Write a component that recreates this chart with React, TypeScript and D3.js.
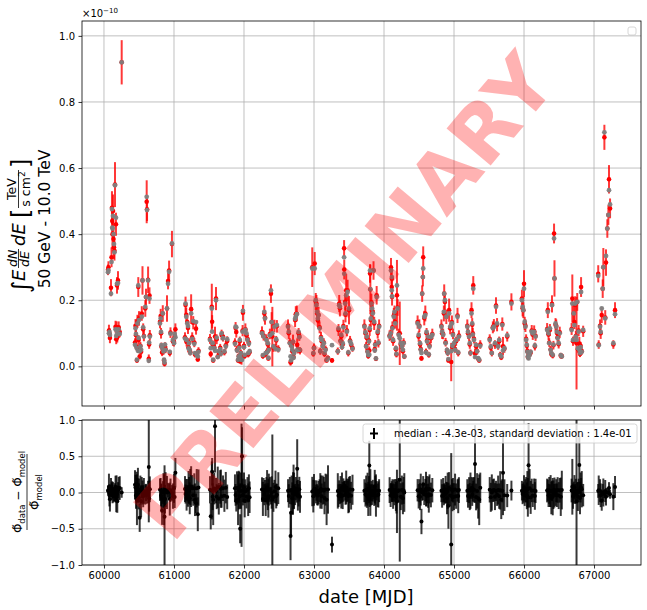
import * as d3 from "d3";
import { useEffect, useRef } from "react";

// one row per night: [date MJD, measured flux (x1e-10), flux error, model flux]
const season01 = [
  [60057, 0.292, 0.016, 0.285], [60064, 0.300, 0.018, 0.290], [60071, 0.108, 0.018, 0.100],
  [60078, 0.100, 0.016, 0.104], [60085, 0.086, 0.016, 0.095], [60100, 0.238, 0.026, 0.220],
  [60108, 0.330, 0.030, 0.316], [60114, 0.480, 0.050, 0.476], [60118, 0.440, 0.045, 0.420],
  [60122, 0.400, 0.045, 0.417], [60129, 0.470, 0.050, 0.455], [60136, 0.385, 0.040, 0.400],
  [60143, 0.360, 0.035, 0.370], [60150, 0.350, 0.030, 0.345], [60157, 0.550, 0.068, 0.548],
  [60165, 0.120, 0.018, 0.112], [60171, 0.430, 0.035, 0.450], [60175, 0.082, 0.015, 0.092],
  [60180, 0.118, 0.018, 0.110], [60186, 0.245, 0.025, 0.250], [60190, 0.088, 0.016, 0.100],
  [60200, 0.260, 0.028, 0.252], [60210, 0.118, 0.018, 0.112], [60225, 0.104, 0.016, 0.098],
  [60253, 0.920, 0.067, 0.920],
];
const season02 = [
  [60443, 0.072, 0.013, 0.065], [60450, 0.123, 0.020, 0.115], [60457, 0.094, 0.018, 0.098],
  [60465, 0.060, 0.012, 0.056], [60471, 0.018, 0.007, 0.020], [60478, 0.136, 0.020, 0.130],
  [60485, 0.052, 0.011, 0.047], [60490, 0.240, 0.030, 0.245], [60495, 0.080, 0.014, 0.086],
  [60500, 0.145, 0.022, 0.140], [60510, 0.030, 0.009, 0.046], [60520, 0.062, 0.012, 0.060],
  [60530, 0.044, 0.011, 0.050], [60540, 0.160, 0.022, 0.150], [60550, 0.260, 0.043, 0.260],
  [60560, 0.112, 0.018, 0.118], [60570, 0.092, 0.016, 0.090], [60590, 0.175, 0.025, 0.180],
  [60600, 0.210, 0.025, 0.210], [60610, 0.498, 0.065, 0.513], [60615, 0.475, 0.035, 0.473],
  [60630, 0.262, 0.040, 0.260], [60640, 0.023, 0.013, 0.017], [60645, 0.066, 0.013, 0.072],
  [60650, 0.214, 0.025, 0.205], [60655, 0.094, 0.016, 0.090],
];
const season03 = [
  [60800, 0.135, 0.020, 0.130], [60810, 0.152, 0.022, 0.145], [60815, 0.100, 0.016, 0.104],
  [60820, 0.060, 0.012, 0.064], [60830, 0.042, 0.011, 0.056], [60840, 0.160, 0.025, 0.160],
  [60850, 0.046, 0.011, 0.045], [60858, 0.018, 0.007, 0.020], [60865, 0.008, 0.0085, 0.012],
  [60872, 0.060, 0.013, 0.066], [60880, 0.052, 0.012, 0.050], [60900, 0.175, 0.040, 0.175],
  [60915, 0.258, 0.025, 0.250], [60930, 0.290, 0.030, 0.286], [60940, 0.040, 0.010, 0.044],
  [60950, 0.102, 0.016, 0.099], [60971, 0.370, 0.040, 0.372], [60985, 0.076, 0.014, 0.080],
  [61000, 0.074, 0.014, 0.070], [61010, 0.092, 0.015, 0.098], [61020, 0.112, 0.018, 0.088],
];
const season04 = [
  [61157, 0.088, 0.015, 0.084], [61165, 0.186, 0.025, 0.190], [61175, 0.156, 0.022, 0.150],
  [61180, 0.074, 0.014, 0.080], [61190, 0.134, 0.020, 0.130], [61200, 0.116, 0.018, 0.122],
  [61208, 0.058, 0.012, 0.054], [61215, 0.072, 0.013, 0.070], [61225, 0.046, 0.011, 0.050],
  [61232, 0.043, 0.010, 0.040], [61245, 0.173, 0.045, 0.160], [61260, 0.088, 0.015, 0.083],
  [61275, 0.132, 0.020, 0.137], [61290, 0.072, 0.014, 0.068], [61300, 0.036, 0.009, 0.040],
  [61315, 0.114, 0.018, 0.134], [61325, 0.036, 0.009, 0.034], [61340, 0.021, 0.007, 0.030],
  [61350, 0.047, 0.011, 0.044],
];
const season05 = [
  [61514, 0.083, 0.015, 0.080], [61525, 0.037, 0.010, 0.055], [61540, 0.180, 0.070, 0.175],
  [61545, 0.135, 0.020, 0.105], [61552, 0.066, 0.013, 0.070], [61560, 0.018, 0.007, 0.020],
  [61575, 0.058, 0.012, 0.055], [61586, 0.090, 0.030, 0.047], [61600, 0.205, 0.035, 0.200],
  [61610, 0.082, 0.015, 0.087], [61625, 0.030, 0.008, 0.028], [61640, 0.042, 0.010, 0.046],
  [61660, 0.056, 0.012, 0.052], [61670, 0.040, 0.010, 0.038], [61680, 0.095, 0.016, 0.100],
  [61700, 0.090, 0.015, 0.085], [61720, 0.043, 0.010, 0.045], [61740, 0.064, 0.013, 0.060],
  [61760, 0.077, 0.014, 0.082],
];
const season06 = [
  [61871, 0.072, 0.013, 0.068], [61880, 0.116, 0.018, 0.120], [61890, 0.104, 0.017, 0.118],
  [61900, 0.051, 0.011, 0.048], [61915, 0.018, 0.007, 0.020], [61925, 0.031, 0.008, 0.030],
  [61932, 0.060, 0.012, 0.056], [61940, 0.076, 0.014, 0.080], [61945, 0.015, 0.006, 0.030],
  [61955, 0.041, 0.010, 0.040], [61965, 0.022, 0.017, 0.020], [61972, 0.030, 0.008, 0.020],
  [61980, 0.108, 0.017, 0.105], [61985, 0.162, 0.024, 0.168], [62000, 0.062, 0.012, 0.058],
  [62010, 0.031, 0.008, 0.035], [62020, 0.112, 0.018, 0.110], [62035, 0.094, 0.016, 0.100],
  [62050, 0.083, 0.014, 0.080], [62060, 0.036, 0.009, 0.040], [62070, 0.072, 0.013, 0.068],
  [62080, 0.043, 0.010, 0.046],
];
const season07 = [
  [62257, 0.104, 0.017, 0.100], [62270, 0.031, 0.008, 0.034], [62280, 0.093, 0.015, 0.090],
  [62290, 0.160, 0.024, 0.165], [62300, 0.148, 0.022, 0.145], [62310, 0.036, 0.009, 0.040],
  [62320, 0.083, 0.014, 0.080], [62330, 0.045, 0.010, 0.042], [62340, 0.066, 0.013, 0.070],
  [62348, 0.024, 0.007, 0.026], [62355, 0.052, 0.011, 0.050], [62370, 0.098, 0.016, 0.094],
  [62385, 0.220, 0.028, 0.230], [62395, 0.134, 0.030, 0.134], [62405, 0.090, 0.090, 0.100],
  [62420, 0.056, 0.012, 0.060], [62435, 0.122, 0.019, 0.120], [62450, 0.057, 0.012, 0.053],
  [62460, 0.078, 0.014, 0.082], [62470, 0.121, 0.019, 0.125], [62490, 0.053, 0.011, 0.050],
];
const season08 = [
  [62629, 0.123, 0.019, 0.120], [62640, 0.100, 0.017, 0.105], [62655, 0.072, 0.013, 0.070],
  [62665, 0.012, 0.010, 0.030], [62672, 0.013, 0.006, 0.018], [62680, 0.062, 0.012, 0.060],
  [62690, 0.046, 0.011, 0.050], [62700, 0.074, 0.022, 0.075], [62708, 0.028, 0.008, 0.026],
  [62715, 0.041, 0.010, 0.040], [62730, 0.140, 0.021, 0.144], [62740, 0.158, 0.024, 0.150],
  [62755, 0.160, 0.024, 0.158], [62760, 0.065, 0.020, 0.049], [62770, 0.050, 0.011, 0.052],
  [62780, 0.100, 0.016, 0.104], [62790, 0.092, 0.015, 0.088], [62800, 0.047, 0.011, 0.050],
];
const season09 = [
  [62975, 0.300, 0.060, 0.296], [62990, 0.038, 0.009, 0.040], [63000, 0.057, 0.012, 0.055],
  [63010, 0.311, 0.035, 0.296], [63025, 0.196, 0.026, 0.200], [63035, 0.190, 0.026, 0.185],
  [63045, 0.160, 0.024, 0.165], [63055, 0.139, 0.020, 0.145], [63065, 0.155, 0.025, 0.155],
  [63080, 0.118, 0.018, 0.115], [63090, 0.046, 0.011, 0.045], [63100, 0.089, 0.016, 0.085],
  [63110, 0.076, 0.014, 0.080], [63125, 0.062, 0.012, 0.060], [63140, 0.072, 0.013, 0.070],
  [63150, 0.037, 0.009, 0.040], [63165, 0.052, 0.011, 0.050], [63180, 0.018, 0.007, 0.020],
  [63200, 0.025, 0.008, 0.024], [63257, 0.018, 0.007, 0.064],
];
const season10 = [
  [63340, 0.046, 0.011, 0.045], [63350, 0.110, 0.018, 0.115], [63360, 0.190, 0.026, 0.185],
  [63370, 0.176, 0.025, 0.180], [63380, 0.078, 0.014, 0.075], [63390, 0.090, 0.016, 0.095],
  [63400, 0.062, 0.012, 0.058], [63410, 0.067, 0.013, 0.070], [63420, 0.122, 0.019, 0.118],
  [63430, 0.357, 0.025, 0.330], [63432, 0.293, 0.030, 0.280], [63445, 0.195, 0.026, 0.190],
  [63450, 0.156, 0.023, 0.160], [63460, 0.230, 0.050, 0.215], [63470, 0.108, 0.017, 0.105],
  [63480, 0.230, 0.032, 0.225], [63490, 0.040, 0.010, 0.042], [63500, 0.170, 0.043, 0.175],
  [63515, 0.078, 0.014, 0.075], [63530, 0.065, 0.013, 0.068], [63550, 0.055, 0.011, 0.053],
];
const season11 = [
  [63720, 0.123, 0.019, 0.120], [63735, 0.100, 0.017, 0.103], [63745, 0.062, 0.012, 0.060],
  [63755, 0.086, 0.015, 0.090], [63765, 0.046, 0.010, 0.044], [63775, 0.031, 0.008, 0.034],
  [63785, 0.078, 0.014, 0.075], [63790, 0.048, 0.012, 0.035], [63795, 0.110, 0.018, 0.115],
  [63800, 0.281, 0.028, 0.290], [63805, 0.233, 0.075, 0.233], [63812, 0.140, 0.021, 0.145],
  [63820, 0.194, 0.026, 0.190], [63830, 0.170, 0.025, 0.175], [63840, 0.164, 0.024, 0.160],
  [63850, 0.290, 0.028, 0.290], [63860, 0.130, 0.020, 0.135], [63868, 0.052, 0.011, 0.048],
  [63875, 0.067, 0.013, 0.065], [63885, 0.023, 0.007, 0.024], [63895, 0.215, 0.028, 0.210],
  [63910, 0.101, 0.017, 0.105], [63920, 0.070, 0.013, 0.072], [63930, 0.123, 0.019, 0.120],
];
const season12 = [
  [64080, 0.093, 0.016, 0.090], [64095, 0.096, 0.016, 0.100], [64100, 0.300, 0.028, 0.290],
  [64110, 0.240, 0.026, 0.230], [64112, 0.265, 0.028, 0.270], [64115, 0.210, 0.026, 0.212],
  [64120, 0.118, 0.018, 0.115], [64130, 0.076, 0.014, 0.080], [64140, 0.154, 0.023, 0.150],
  [64150, 0.160, 0.024, 0.165], [64160, 0.134, 0.020, 0.130], [64170, 0.052, 0.011, 0.055],
  [64178, 0.036, 0.009, 0.038], [64185, 0.215, 0.107, 0.245], [64195, 0.178, 0.025, 0.175],
  [64210, 0.098, 0.016, 0.095], [64225, 0.100, 0.096, 0.085], [64240, 0.066, 0.013, 0.070],
  [64255, 0.062, 0.012, 0.060], [64270, 0.046, 0.011, 0.050], [64280, 0.072, 0.013, 0.070],
  [64290, 0.030, 0.008, 0.030],
];
const season13 = [
  [64480, 0.134, 0.020, 0.130], [64495, 0.090, 0.016, 0.095], [64505, 0.123, 0.019, 0.120],
  [64515, 0.066, 0.013, 0.070], [64525, 0.052, 0.011, 0.050], [64535, 0.024, 0.007, 0.040],
  [64545, 0.220, 0.025, 0.220], [64555, 0.270, 0.028, 0.270], [64560, 0.330, 0.033, 0.296],
  [64575, 0.146, 0.022, 0.150], [64590, 0.160, 0.024, 0.155], [64600, 0.044, 0.010, 0.042],
  [64608, 0.100, 0.016, 0.104], [64615, 0.078, 0.014, 0.075], [64630, 0.086, 0.015, 0.090],
  [64640, 0.035, 0.009, 0.036], [64650, 0.063, 0.012, 0.060], [64670, 0.085, 0.015, 0.088],
  [64690, 0.098, 0.016, 0.095],
];
const season14 = [
  [64820, 0.123, 0.019, 0.120], [64830, 0.100, 0.017, 0.105], [64845, 0.098, 0.016, 0.095],
  [64855, 0.160, 0.024, 0.165], [64860, 0.220, 0.028, 0.220], [64870, 0.195, 0.026, 0.200],
  [64880, 0.073, 0.013, 0.070], [64890, 0.150, 0.022, 0.150], [64900, 0.046, 0.011, 0.050],
  [64910, 0.041, 0.010, 0.040], [64920, 0.018, 0.007, 0.022], [64930, 0.170, 0.035, 0.160],
  [64945, 0.115, 0.018, 0.120], [64960, 0.013, 0.058, 0.046], [64970, 0.134, 0.020, 0.130],
  [64978, 0.058, 0.012, 0.062], [64985, 0.098, 0.016, 0.095], [65000, 0.066, 0.013, 0.070],
  [65015, 0.052, 0.011, 0.050], [65030, 0.076, 0.014, 0.080], [65050, 0.154, 0.023, 0.150],
  [65060, 0.040, 0.010, 0.042], [65070, 0.093, 0.016, 0.090],
];
const season15 = [
  [65190, 0.123, 0.019, 0.120], [65200, 0.100, 0.017, 0.105], [65215, 0.093, 0.016, 0.090],
  [65225, 0.066, 0.013, 0.070], [65235, 0.041, 0.010, 0.040], [65250, 0.170, 0.024, 0.160],
  [65260, 0.126, 0.020, 0.130], [65268, 0.100, 0.016, 0.096], [65275, 0.245, 0.028, 0.235],
  [65285, 0.083, 0.014, 0.080], [65300, 0.039, 0.015, 0.028], [65315, 0.061, 0.012, 0.065],
  [65330, 0.046, 0.011, 0.045], [65345, 0.023, 0.007, 0.025], [65360, 0.018, 0.007, 0.020],
  [65375, 0.066, 0.013, 0.062],
];
const season16 = [
  [65510, 0.083, 0.014, 0.080], [65525, 0.056, 0.012, 0.060], [65540, 0.040, 0.010, 0.040],
  [65555, 0.118, 0.018, 0.115], [65570, 0.124, 0.019, 0.120], [65585, 0.066, 0.013, 0.070],
  [65600, 0.184, 0.025, 0.180], [65615, 0.126, 0.020, 0.130], [65630, 0.062, 0.012, 0.060],
  [65645, 0.076, 0.014, 0.080], [65660, 0.035, 0.009, 0.034], [65675, 0.027, 0.008, 0.030],
  [65690, 0.128, 0.020, 0.125], [65700, 0.061, 0.028, 0.048], [65720, 0.053, 0.012, 0.055],
  [65760, 0.090, 0.015, 0.094], [65820, 0.195, 0.026, 0.190],
];
const season17 = [
  [65970, 0.205, 0.027, 0.200], [65980, 0.176, 0.025, 0.180], [65990, 0.170, 0.024, 0.170],
  [66000, 0.250, 0.041, 0.235], [66010, 0.130, 0.020, 0.135], [66020, 0.123, 0.019, 0.120],
  [66030, 0.083, 0.014, 0.080], [66040, 0.062, 0.012, 0.065], [66048, 0.046, 0.011, 0.044],
  [66055, 0.028, 0.008, 0.030], [66065, 0.033, 0.014, 0.024], [66080, 0.036, 0.009, 0.034],
  [66095, 0.041, 0.010, 0.044], [66110, 0.108, 0.017, 0.105], [66125, 0.096, 0.016, 0.100],
  [66145, 0.107, 0.017, 0.104], [66155, 0.060, 0.012, 0.063], [66165, 0.092, 0.015, 0.090],
];
const season18 = [
  [66330, 0.113, 0.018, 0.110], [66340, 0.170, 0.024, 0.165], [66350, 0.096, 0.016, 0.100],
  [66360, 0.072, 0.013, 0.070], [66370, 0.110, 0.018, 0.115], [66380, 0.051, 0.011, 0.050],
  [66390, 0.037, 0.009, 0.040], [66400, 0.189, 0.026, 0.185], [66410, 0.033, 0.009, 0.035],
  [66420, 0.064, 0.013, 0.066], [66429, 0.402, 0.030, 0.387], [66435, 0.266, 0.055, 0.266],
  [66450, 0.126, 0.020, 0.130], [66460, 0.123, 0.019, 0.120], [66470, 0.101, 0.017, 0.105],
  [66480, 0.088, 0.015, 0.085], [66495, 0.067, 0.013, 0.070], [66510, 0.103, 0.017, 0.100],
  [66525, 0.032, 0.009, 0.034], [66540, 0.031, 0.008, 0.030],
];
const season19 = [
  [66680, 0.113, 0.018, 0.110], [66690, 0.205, 0.073, 0.190], [66700, 0.076, 0.014, 0.080],
  [66710, 0.160, 0.024, 0.160], [66720, 0.134, 0.021, 0.125], [66730, 0.186, 0.026, 0.190],
  [66740, 0.092, 0.015, 0.090], [66750, 0.070, 0.140, 0.080], [66760, 0.195, 0.027, 0.195],
  [66770, 0.052, 0.011, 0.055], [66780, 0.108, 0.017, 0.105], [66790, 0.069, 0.020, 0.050],
  [66800, 0.037, 0.009, 0.040], [66808, 0.062, 0.012, 0.058], [66815, 0.240, 0.030, 0.225],
  [66825, 0.046, 0.011, 0.044], [66845, 0.106, 0.017, 0.110],
];
const season20 = [
  [67060, 0.280, 0.026, 0.274], [67067, 0.066, 0.013, 0.064], [67086, 0.123, 0.019, 0.120],
  [67095, 0.100, 0.017, 0.104], [67110, 0.155, 0.024, 0.175], [67124, 0.235, 0.028, 0.235],
  [67133, 0.300, 0.058, 0.300], [67148, 0.693, 0.038, 0.708], [67160, 0.148, 0.022, 0.145],
  [67171, 0.314, 0.040, 0.334], [67190, 0.417, 0.028, 0.417], [67205, 0.458, 0.030, 0.458],
  [67214, 0.566, 0.043, 0.533], [67229, 0.478, 0.030, 0.490], [67276, 0.066, 0.013, 0.070],
  [67300, 0.170, 0.024, 0.158],
];

const seasons = [
  season01, season02, season03, season04, season05, season06, season07, season08, season09, season10,
  season11, season12, season13, season14, season15, season16, season17, season18, season19, season20,
];

const fluxTicks = [0, 0.2, 0.4, 0.6, 0.8, 1.0];
const residTicks = [-1, -0.5, 0, 0.5, 1];
const dateTicks = [60000, 61000, 62000, 63000, 64000, 65000, 66000, 67000];
const legendLabel = "median : -4.3e-03, standard deviation : 1.4e-01";
const watermark = "PRELIMINARY";

const FONT = "DejaVu Sans";

const App = () => {
  const ref = useRef<SVGSVGElement>(null);

  useEffect(() => {
    const svg = d3.select(ref.current);
    svg.selectAll("*").remove();

    const left = 82, right = 641;
    const top1 = 21, bot1 = 406;
    const top2 = 420, bot2 = 565;

    const points = seasons.flat().map(([mjd, flux, err, model]) => ({
      mjd, flux, err, model,
      resid: (flux - model) / model,
      residErr: err / model,
    }));

    const x = d3.scaleLinear().domain([59686, 67671]).range([left, right]);
    const y1 = d3.scaleLinear().domain([-0.12, 1.045]).range([bot1, top1]);
    const y2 = d3.scaleLinear().domain([-1, 1]).range([bot2, top2]);

    svg.append("rect").attr("width", 647).attr("height", 610).attr("fill", "white");

    const defs = svg.append("defs");
    defs.append("clipPath").attr("id", "clip-top")
      .append("rect").attr("x", left).attr("y", top1).attr("width", right - left).attr("height", bot1 - top1);
    defs.append("clipPath").attr("id", "clip-bot")
      .append("rect").attr("x", left).attr("y", top2).attr("width", right - left).attr("height", bot2 - top2);

    // grids
    const grid = (g, yScale, yTicks, y0, y1p) => {
      g.selectAll(".gx").data(dateTicks).join("line")
        .attr("x1", d => x(d)).attr("x2", d => x(d)).attr("y1", y0).attr("y2", y1p)
        .attr("stroke", "#b0b0b0").attr("stroke-width", 0.8);
      g.selectAll(".gy").data(yTicks).join("line")
        .attr("x1", left).attr("x2", right).attr("y1", d => yScale(d)).attr("y2", d => yScale(d))
        .attr("stroke", "#b0b0b0").attr("stroke-width", 0.8);
    };
    grid(svg.append("g"), y1, fluxTicks, top1, bot1);
    grid(svg.append("g"), y2, residTicks, top2, bot2);

    // top panel: measured flux with errors, model on top
    const topG = svg.append("g").attr("clip-path", "url(#clip-top)");
    topG.append("g").selectAll("line").data(points).join("line")
      .attr("x1", d => x(d.mjd)).attr("x2", d => x(d.mjd))
      .attr("y1", d => y1(d.flux - d.err)).attr("y2", d => y1(d.flux + d.err))
      .attr("stroke", "red").attr("stroke-opacity", 0.78).attr("stroke-width", 2);
    topG.append("g").selectAll("circle").data(points).join("circle")
      .attr("cx", d => x(d.mjd)).attr("cy", d => y1(d.flux)).attr("r", 2.3).attr("fill", "red");
    topG.append("g").selectAll("circle").data(points).join("circle")
      .attr("cx", d => x(d.mjd)).attr("cy", d => y1(d.model)).attr("r", 2.4)
      .attr("fill", "gray").attr("fill-opacity", 0.95);

    // bottom panel: residuals
    const botG = svg.append("g").attr("clip-path", "url(#clip-bot)");
    botG.append("g").selectAll("line").data(points).join("line")
      .attr("x1", d => x(d.mjd)).attr("x2", d => x(d.mjd))
      .attr("y1", d => y2(d.resid - d.residErr)).attr("y2", d => y2(d.resid + d.residErr))
      .attr("stroke", "black").attr("stroke-opacity", 0.78).attr("stroke-width", 2);
    botG.append("g").selectAll("circle").data(points).join("circle")
      .attr("cx", d => x(d.mjd)).attr("cy", d => y2(d.resid)).attr("r", 2).attr("fill", "black");

    // axes
    const styleAxis = g => {
      g.select(".domain").remove();
      g.selectAll("line").attr("stroke", "black").attr("stroke-width", 0.8);
      g.selectAll("text").attr("fill", "black");
      g.attr("font-family", FONT).attr("font-size", 10);
    };
    svg.append("g").attr("transform", `translate(${left},0)`)
      .call(d3.axisLeft(y1).tickValues(fluxTicks).tickSize(3.5).tickPadding(3.5).tickFormat(d3.format(".1f")))
      .call(styleAxis);
    svg.append("g").attr("transform", `translate(${left},0)`)
      .call(d3.axisLeft(y2).tickValues(residTicks).tickSize(3.5).tickPadding(3.5).tickFormat(d3.format(".1f")))
      .call(styleAxis);
    svg.append("g").attr("transform", `translate(0,${bot1})`)
      .call(d3.axisBottom(x).tickValues(dateTicks).tickSize(3.5).tickFormat(() => ""))
      .call(styleAxis);
    svg.append("g").attr("transform", `translate(0,${bot2})`)
      .call(d3.axisBottom(x).tickValues(dateTicks).tickSize(3.5).tickPadding(3.5).tickFormat(d3.format("d")))
      .call(styleAxis);

    // spines
    [[top1, bot1], [top2, bot2]].forEach(([t, b]) => {
      svg.append("rect").attr("x", left).attr("y", t).attr("width", right - left).attr("height", b - t)
        .attr("fill", "none").attr("stroke", "black").attr("stroke-width", 0.8);
    });

    // offset text
    const off = svg.append("text").attr("x", left).attr("y", 17)
      .attr("font-family", FONT).attr("font-size", 10);
    off.append("tspan").text("\u00d710");
    off.append("tspan").attr("font-size", 7).attr("dy", -4).text("\u221210");

    // empty legend of top panel
    svg.append("rect").attr("x", 628).attr("y", 27).attr("width", 8).attr("height", 8).attr("rx", 2)
      .attr("fill", "white").attr("fill-opacity", 0.8).attr("stroke", "#cccccc").attr("stroke-width", 0.8);

    // residual legend
    svg.append("rect").attr("x", 363).attr("y", 424).attr("width", 274).attr("height", 19).attr("rx", 2.5)
      .attr("fill", "white").attr("fill-opacity", 0.8).attr("stroke", "#cccccc").attr("stroke-width", 0.8);
    svg.append("line").attr("x1", 370).attr("x2", 378).attr("y1", 433.5).attr("y2", 433.5)
      .attr("stroke", "black").attr("stroke-width", 2);
    svg.append("line").attr("x1", 374).attr("x2", 374).attr("y1", 428).attr("y2", 439)
      .attr("stroke", "black").attr("stroke-width", 2);
    svg.append("text").attr("x", 394).attr("y", 437).attr("font-family", FONT).attr("font-size", 10)
      .text(legendLabel);

    // x label
    svg.append("text").attr("x", 366).attr("y", 603).attr("text-anchor", "middle")
      .attr("font-family", FONT).attr("font-size", 18).text("date [MJD]");

    // top y label
    const yl = svg.append("g").attr("transform", "translate(25,219) rotate(-90)")
      .attr("font-family", FONT).attr("fill", "black");
    const piece = (t, px, py, size, italic = false) =>
      yl.append("text").attr("x", px).attr("y", py).attr("font-size", size)
        .attr("font-style", italic ? "italic" : "normal").text(t);
    piece("\u222b", -74, 4, 24);
    piece("E", -62, 0, 18, true);
    piece("dN", -48, -8.5, 12.5, true);
    piece("dE", -48, 4, 12.5, true);
    yl.append("line").attr("x1", -49).attr("x2", -30).attr("y1", -6.5).attr("y2", -6.5)
      .attr("stroke", "black").attr("stroke-width", 0.8);
    piece("dE", -27, 0, 18, true);
    piece("[", 1, 4, 24);
    yl.append("text").attr("x", 30).attr("y", -9).attr("font-size", 12.5).attr("text-anchor", "middle").text("TeV");
    const den = yl.append("text").attr("x", 30).attr("y", 4.5).attr("font-size", 12.5).attr("text-anchor", "middle");
    den.append("tspan").text("s cm");
    den.append("tspan").attr("font-size", 9).attr("dy", -4.5).text("2");
    yl.append("line").attr("x1", 11).attr("x2", 49).attr("y1", -6.5).attr("y2", -6.5)
      .attr("stroke", "black").attr("stroke-width", 0.8);
    piece("]", 51, 4, 24);
    yl.append("text").attr("x", 0).attr("y", 25).attr("font-size", 15.5).attr("text-anchor", "middle")
      .text("50 GeV - 10.0 TeV");

    // bottom y label
    const rl = svg.append("g").attr("transform", "translate(27,492) rotate(-90)")
      .attr("font-family", FONT).attr("fill", "black");
    const num = rl.append("text").attr("x", 0).attr("y", -5).attr("font-size", 12).attr("text-anchor", "middle");
    num.append("tspan").text("\u03a6\u0303");
    num.append("tspan").attr("font-size", 8.5).attr("dy", 3).text("data");
    num.append("tspan").attr("dy", -3).text(" \u2212 \u03a6\u0303");
    num.append("tspan").attr("font-size", 8.5).attr("dy", 3).text("model");
    rl.append("line").attr("x1", -38).attr("x2", 38).attr("y1", 0).attr("y2", 0)
      .attr("stroke", "black").attr("stroke-width", 0.8);
    const dn = rl.append("text").attr("x", 0).attr("y", 12).attr("font-size", 12).attr("text-anchor", "middle");
    dn.append("tspan").text("\u03a6\u0303");
    dn.append("tspan").attr("font-size", 8.5).attr("dy", 3).text("model");

    // watermark
    svg.append("text").attr("transform", "translate(345,297) rotate(-50)")
      .attr("text-anchor", "middle").attr("dominant-baseline", "central")
      .attr("font-family", FONT).attr("font-weight", "bold").attr("font-size", 79)
      .attr("fill", "red").attr("fill-opacity", 0.3).text(watermark);
  }, []);

  return <svg ref={ref} width={647} height={610} style={{ position: "absolute", left: 0, top: 0 }} />;
};

export default App;
